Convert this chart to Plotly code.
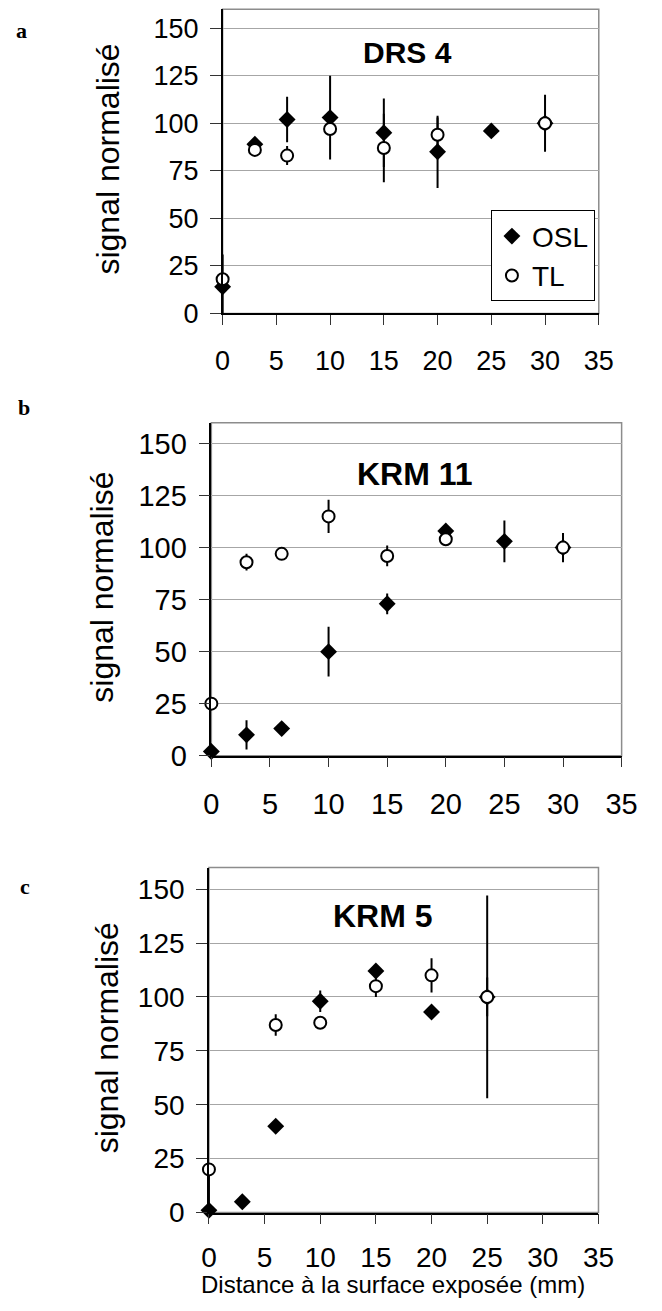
import plotly.graph_objects as go

W, H = 662, 1311

# ---------------- data ----------------
# Panel a : DRS 4
a_osl_x = [0, 3, 6, 10, 15, 20, 25, 30]
a_osl_y = [14, 89, 102, 103, 95, 85, 96, 100]
a_osl_ep = [17, 0, 12, 22, 18, 19, 0, 0]
a_osl_em = [17, 0, 12, 22, 18, 19, 0, 0]
a_tl_x = [0, 3, 6, 10, 15, 20, 30]
a_tl_y = [18, 86, 83, 97, 87, 94, 100]
a_tl_ep = [0, 0, 5, 0, 18, 9, 15]
a_tl_em = [0, 0, 5, 0, 18, 9, 15]

# Panel b : KRM 11
b_osl_x = [0, 3, 6, 10, 15, 20, 25, 30]
b_osl_y = [2, 10, 13, 50, 73, 108, 103, 100]
b_osl_ep = [0, 7, 3, 12, 5, 0, 10, 0]
b_osl_em = [0, 7, 3, 12, 5, 0, 10, 0]
b_tl_x = [0, 3, 6, 10, 15, 20, 30]
b_tl_y = [25, 93, 97, 115, 96, 104, 100]
b_tl_ep = [0, 4, 0, 8, 5, 0, 7]
b_tl_em = [0, 4, 0, 8, 5, 0, 7]

# Panel c : KRM 5
c_osl_x = [0, 3, 6, 10, 15, 20, 25]
c_osl_y = [1, 5, 40, 98, 112, 93, 100]
c_osl_ep = [0, 0, 0, 5, 0, 0, 9]
c_osl_em = [0, 0, 0, 5, 0, 0, 9]
c_tl_x = [0, 6, 10, 15, 20, 25]
c_tl_y = [20, 87, 88, 105, 110, 100]
c_tl_ep = [0, 5, 0, 5, 8, 47]
c_tl_em = [20, 5, 0, 5, 8, 47]

titles = ["DRS 4", "KRM 11", "KRM 5"]
letters = ["a", "b", "c"]
x_ticks = [0, 5, 10, 15, 20, 25, 30, 35]
y_ticks = [0, 25, 50, 75, 100, 125, 150]
y_label = "signal normalisé"
x_label = "Distance à la surface exposée (mm)"

# ---------------- layout geometry (pixels) ----------------
boxes = [(222.7, 613.0, 9.3, 317.3),
         (211.0, 636.7, 428.0, 765.0),
         (208.5, 612.7, 878.3, 1227.5)]
tick_fs = [27, 29, 28]
x_standoff = [12, 12, 9]
ttl_fs = [30, 32, 32]
ttl_pos = [(415, 53), (422, 480), (389, 927)]
ylab_x = [104, 98, 103]
letter_pos = [(14, 31), (17, 413), (18, 897)]

FONT = "Liberation Sans, Arial, sans-serif"

def px(x):
    return x / W

def py(y):
    return 1 - y / H

fig = go.Figure()

data = [
    (a_osl_x, a_osl_y, a_osl_ep, a_osl_em, a_tl_x, a_tl_y, a_tl_ep, a_tl_em),
    (b_osl_x, b_osl_y, b_osl_ep, b_osl_em, b_tl_x, b_tl_y, b_tl_ep, b_tl_em),
    (c_osl_x, c_osl_y, c_osl_ep, c_osl_em, c_tl_x, c_tl_y, c_tl_ep, c_tl_em),
]

for i, (ox, oy, oep, oem, tx, ty, tep, tem) in enumerate(data):
    n = "" if i == 0 else str(i + 1)
    xa, ya = "x" + n, "y" + n
    fig.add_trace(go.Scatter(
        x=ox, y=oy, mode="markers", name="OSL", xaxis=xa, yaxis=ya,
        showlegend=(i == 0), cliponaxis=False,
        marker=dict(symbol="diamond", size=13, color="black",
                    line=dict(width=0)),
        error_y=dict(type="data", array=oep, arrayminus=oem, symmetric=False,
                     color="black", thickness=2, width=0)))
    fig.add_trace(go.Scatter(
        x=tx, y=ty, mode="markers", name="TL", xaxis=xa, yaxis=ya,
        showlegend=(i == 0), cliponaxis=False,
        marker=dict(symbol="circle", size=12, color="white",
                    line=dict(width=2, color="black")),
        error_y=dict(type="data", array=tep, arrayminus=tem, symmetric=False,
                     color="black", thickness=2, width=0)))

    l, r, t, b = boxes[i]
    xkey = "xaxis" + n
    ykey = "yaxis" + n
    fig.layout[xkey] = dict(
        domain=[px(l), px(r)], anchor=ya, range=[0, 35],
        tickmode="array", tickvals=x_ticks, ticktext=[str(v) for v in x_ticks],
        ticks="outside", ticklen=10, tickwidth=1, tickcolor="#333",
        showgrid=False, zeroline=False, showline=True, linecolor="black",
        linewidth=1.5, ticklabelstandoff=x_standoff[i],
        tickfont=dict(family=FONT, size=tick_fs[i], color="black"))
    fig.layout[ykey] = dict(
        domain=[py(b), py(t)], anchor=xa, range=[0, 160],
        tickmode="array", tickvals=y_ticks, ticktext=[str(v) for v in y_ticks],
        ticks="outside", ticklen=11, tickwidth=1, tickcolor="#333",
        showgrid=True, gridcolor="#a6a6a6", gridwidth=1,
        zeroline=False, showline=True, linecolor="black", linewidth=1.5,
        ticklabelstandoff=6,
        tickfont=dict(family=FONT, size=tick_fs[i], color="black"))

    # grey frame of plot area
    fig.add_shape(type="rect", xref=xa + " domain", yref=ya + " domain",
                  x0=0, x1=1, y0=0, y1=1, layer="below",
                  line=dict(color="#8c8c8c", width=1.5))

    # panel title
    fig.add_annotation(x=px(ttl_pos[i][0]), y=py(ttl_pos[i][1]),
                       xref="paper", yref="paper", text="<b>%s</b>" % titles[i],
                       showarrow=False, xanchor="center", yanchor="middle",
                       font=dict(family=FONT, size=ttl_fs[i], color="black"))
    # y axis label
    fig.add_annotation(x=px(ylab_x[i]), y=py((t + b) / 2 - 2),
                       xref="paper", yref="paper", text=y_label,
                       textangle=-90, showarrow=False,
                       xanchor="center", yanchor="middle",
                       font=dict(family=FONT, size=32, color="black"))
    # panel letter
    fig.add_annotation(x=px(letter_pos[i][0]), y=py(letter_pos[i][1]),
                       xref="paper", yref="paper", text="<b>%s</b>" % letters[i],
                       showarrow=False, xanchor="center", yanchor="middle",
                       font=dict(family="Liberation Serif, Times New Roman, serif",
                                 size=22, color="black"))

# x axis title for bottom panel
fig.add_annotation(x=px(399), y=py(1300), xref="paper", yref="paper",
                   text=x_label, showarrow=False, xanchor="center",
                   yanchor="middle",
                   font=dict(family=FONT, size=24, color="black"))

fig.update_layout(
    width=W, height=H, margin=dict(l=0, r=0, t=0, b=0),
    paper_bgcolor="white", plot_bgcolor="white",
    showlegend=True,
    legend=dict(x=px(609), y=py(213), xanchor="right", yanchor="top",
                xref="paper", yref="paper",
                bgcolor="white", bordercolor="black", borderwidth=1,
                font=dict(family=FONT, size=28, color="black"),
                itemwidth=30, tracegroupgap=0),
)

fig.write_html("out.html")
